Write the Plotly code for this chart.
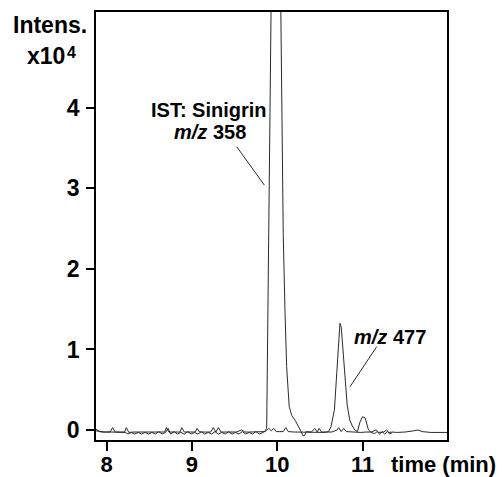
import plotly.graph_objects as go

# m/z 358 (IST: Sinigrin) trace
t358 = [7.875, 7.92, 7.98, 8.04, 8.07, 8.10, 8.16, 8.21, 8.23, 8.26, 8.32, 8.38, 8.44, 8.50,
        8.56, 8.62, 8.68, 8.70, 8.73, 8.80, 8.86, 8.88, 8.91, 8.98, 9.04, 9.06, 9.09, 9.16,
        9.22, 9.25, 9.28, 9.31, 9.34, 9.40, 9.46, 9.52, 9.58, 9.62, 9.68, 9.74, 9.80, 9.85,
        9.876, 9.90, 9.923, 9.95, 9.98, 10.01, 10.04, 10.07, 10.09, 10.11, 10.14, 10.17,
        10.21, 10.25, 10.28, 10.30, 10.32, 10.34, 10.40, 10.44, 10.47, 10.49, 10.52, 10.58,
        10.64, 10.70, 10.72, 10.75, 10.78, 10.81, 10.86, 10.92, 10.98, 11.04, 11.10, 11.16,
        11.19, 11.25, 11.28, 11.31, 11.35, 11.40, 11.50, 11.60, 11.65, 11.70, 11.80, 11.99]
i358 = [0.012, -0.02, -0.025, -0.025, 0.03, -0.025, -0.025, -0.025, 0.03, -0.03, -0.025, -0.025, -0.02, -0.025,
        -0.025, -0.02, -0.025, 0.03, -0.025, -0.025, -0.025, 0.03, -0.025, -0.025, -0.025, 0.02, -0.025, -0.025,
        -0.025, 0.03, -0.025, 0.03, -0.025, -0.025, -0.025, -0.025, 0.0, -0.025, -0.025, -0.025, -0.025, -0.02,
        0.02, 2.6, 5.4, 7.5, 8.0, 7.6, 5.4, 2.44, 1.5, 0.79, 0.29, 0.18,
        0.12, 0.05, -0.02, -0.07, -0.07, -0.02, -0.025, 0.02, -0.025, 0.02, -0.025, -0.025,
        -0.025, 0.0, 0.03, -0.02, 0.02, -0.02, -0.025, -0.03, -0.03, -0.025, -0.025, 0.0,
        -0.03, -0.025, 0.0, -0.03, -0.025, -0.03, -0.025, -0.01, 0.0, -0.02, -0.03, -0.03]

# m/z 477 trace
t477 = [7.875, 7.95, 8.05, 8.15, 8.22, 8.25, 8.29, 8.33, 8.37, 8.41, 8.45, 8.49, 8.53, 8.57,
        8.61, 8.65, 8.69, 8.72, 8.75, 8.79, 8.83, 8.87, 8.91, 8.95, 8.99, 9.03, 9.07, 9.11,
        9.15, 9.19, 9.23, 9.27, 9.31, 9.35, 9.39, 9.43, 9.47, 9.51, 9.55, 9.59, 9.63, 9.67,
        9.71, 9.75, 9.79, 9.83, 9.87, 9.90, 9.93, 9.96, 9.99, 10.03, 10.07, 10.10, 10.13,
        10.20, 10.26, 10.32, 10.40, 10.48, 10.55, 10.60, 10.63, 10.67, 10.70, 10.735, 10.75,
        10.77, 10.79, 10.82, 10.85, 10.88, 10.91, 10.94, 10.97, 11.00, 11.03, 11.07, 11.10,
        11.14, 11.17, 11.20, 11.23, 11.26, 11.29, 11.32, 11.35]
i477 = [-0.01, -0.025, -0.025, -0.025, -0.03, -0.05, -0.03, -0.05, -0.03, -0.05, -0.03, -0.05, -0.03, -0.05,
        -0.02, -0.05, -0.03, 0.02, -0.05, -0.02, -0.05, -0.03, -0.05, -0.02, -0.05, -0.03, -0.05, -0.02,
        -0.05, -0.03, -0.05, -0.02, -0.05, -0.03, -0.05, -0.02, -0.05, -0.03, -0.05, -0.02, -0.05, -0.03,
        -0.05, -0.02, -0.05, -0.03, -0.01, 0.02, -0.01, 0.02, -0.02, -0.02, -0.02, 0.03, -0.02,
        -0.025, -0.025, -0.03, -0.03, -0.03, -0.03, -0.02, 0.04, 0.25, 0.8, 1.325, 1.28,
        1.0, 0.79, 0.31, 0.124, 0.05, 0.0, -0.02, 0.1, 0.165, 0.15, 0.0, -0.03,
        -0.045, -0.02, -0.05, -0.02, -0.05, -0.02, -0.05, -0.03]

x_ticks = [8, 9, 10, 11]
y_ticks = [0, 1, 2, 3, 4]

FONT = "Liberation Sans, Arial, Helvetica, sans-serif"
LINE = "#2a2a2a"

fig = go.Figure()
fig.add_trace(go.Scatter(x=t358, y=i358, mode="lines", line=dict(color=LINE, width=1), showlegend=False))
fig.add_trace(go.Scatter(x=t477, y=i477, mode="lines", line=dict(color=LINE, width=1), showlegend=False))

# page-pixel geometry (the page body adds an 8px offset)
OFF = 8
L, R, T, B = 96, 447, 12, 440
W, H = 504 - OFF, 477 - OFF
def px(x):
    return (x - L) / (R - L)
def py(y):
    return (B - y) / (B - T)

anns = [
    dict(x=px(50), y=py(25), text="<b>Intens.</b>", size=23, xa="center"),
    dict(x=px(67), y=py(56), text="<b>x10</b>", size=23, xa="right"),
    dict(x=px(65), y=py(52), text="<b>4</b>", size=16, xa="left"),
    dict(x=px(209), y=py(110), text="<b>IST: Sinigrin</b>", size=20, xa="center"),
    dict(x=px(210), y=py(132), text="<b><i>m/z</i> 358</b>", size=20, xa="center"),
    dict(x=px(390), y=py(337), text="<b><i>m/z</i> 477</b>", size=20, xa="center"),
    dict(x=px(443), y=py(464), text="<b>time (min)</b>", size=22, xa="center"),
]
for a in anns:
    fig.add_annotation(x=a["x"], y=a["y"], xref="paper", yref="paper", text=a["text"],
                       showarrow=False, xanchor=a["xa"], yanchor="middle",
                       font=dict(family=FONT, size=a["size"], color="black"))

# leader lines
fig.add_shape(type="line", xref="paper", yref="paper", x0=px(236.7), y0=py(146.7), x1=px(264.3), y1=py(185),
              line=dict(color=LINE, width=1))
fig.add_shape(type="line", xref="paper", yref="paper", x0=px(376.7), y0=py(346.7), x1=px(350), y1=py(386.7),
              line=dict(color=LINE, width=1))

axis_common = dict(showline=True, mirror=True, linecolor="black", linewidth=1.5, ticks="outside",
                   tickcolor="black", tickwidth=1.5, showgrid=False, zeroline=False, automargin=False)
fig.update_xaxes(range=[7.875, 11.99], tickvals=x_ticks, ticktext=[str(v) for v in x_ticks],
                 ticklen=9, ticklabelstandoff=-5,
                 tickfont=dict(family=FONT, size=22, color="black", weight="bold"), **axis_common)
fig.update_yaxes(range=[-0.124, 5.19], tickvals=y_ticks, ticktext=[str(v) for v in y_ticks],
                 ticklen=8, ticklabelstandoff=2,
                 tickfont=dict(family=FONT, size=23, color="black", weight="bold"), **axis_common)

fig.update_layout(width=W, height=H,
                  margin=dict(l=L - OFF, r=504 - R, t=T - OFF, b=477 - B, pad=0),
                  plot_bgcolor="white", paper_bgcolor="white", showlegend=False)

fig.write_html("out.html")
